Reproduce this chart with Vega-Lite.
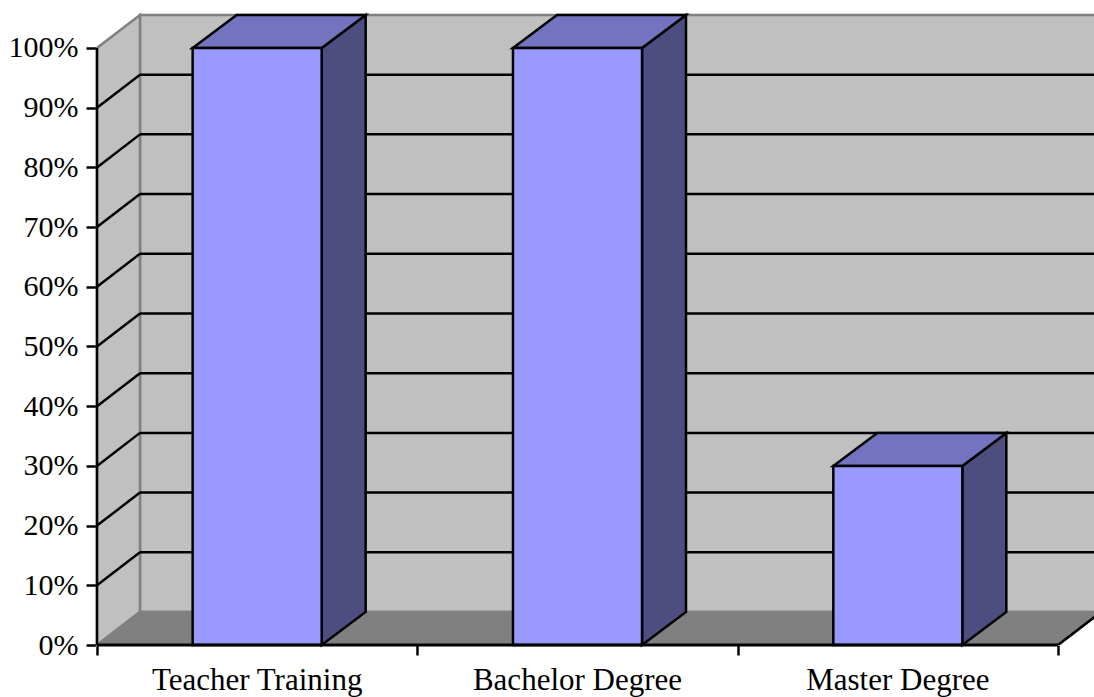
{
  "$schema": "https://vega.github.io/schema/vega-lite/v6.json",
  "width": 997,
  "height": 632,
  "autosize": {"type": "none"},
  "padding": {"left": 97, "top": 13, "right": 0, "bottom": 52},
  "background": "white",
  "config": {
    "view": {"stroke": null},
    "axis": {"labelFont": "Liberation Serif", "labelColor": "black", "tickColor": "black", "tickWidth": 2.5, "domain": false, "grid": false}
  },
  "datasets": {
    "bars": [
      {"category": "Teacher Training", "slot": 0, "value": 100},
      {"category": "Bachelor Degree", "slot": 1, "value": 100},
      {"category": "Master Degree", "slot": 2, "value": 30}
    ],
    "levels": [
      {"level": 10}, {"level": 20}, {"level": 30}, {"level": 40}, {"level": 50},
      {"level": 60}, {"level": 70}, {"level": 80}, {"level": 90}
    ],
    "corners": [{"corner": 0}, {"corner": 1}, {"corner": 2}, {"corner": 3}],
    "sideEdge": [{"corner": 0}, {"corner": 1}],
    "stage": [{"part": "stage"}]
  },
  "layer": [
    {
      "description": "Back wall, which also carries both axes",
      "data": {"name": "stage"},
      "transform": [
        {"calculate": "0.1342", "as": "x0"},
        {"calculate": "3.3", "as": "x1"},
        {"calculate": "5.53", "as": "y0"},
        {"calculate": "105.53", "as": "y1"}
      ],
      "mark": {"type": "rect", "fill": "#C0C0C0", "stroke": "#808080", "strokeWidth": 2.5, "clip": true},
      "encoding": {
        "x": {
          "field": "x0", "type": "quantitative",
          "scale": {"domain": [0, 3.1124], "nice": false, "zero": false},
          "axis": {"values": [0, 1, 2, 3], "labels": false, "tickSize": 10, "title": null}
        },
        "x2": {"field": "x1"},
        "y": {
          "field": "y0", "type": "quantitative",
          "scale": {"domain": [0, 105.86], "nice": false, "zero": false},
          "axis": {
            "values": [0, 10, 20, 30, 40, 50, 60, 70, 80, 90, 100],
            "labelExpr": "datum.value + '%'",
            "labelFontSize": 30, "tickSize": 11, "labelPadding": 8, "title": null
          }
        },
        "y2": {"field": "y1"}
      }
    },
    {
      "description": "Left side wall, a sheared band",
      "data": {"name": "sideEdge"},
      "transform": [
        {"calculate": "datum.corner * 0.1342", "as": "px"},
        {"calculate": "datum.corner * 5.53", "as": "low"},
        {"calculate": "100 + datum.corner * 5.53", "as": "high"}
      ],
      "mark": {"type": "area", "fill": "#C0C0C0", "stroke": "#808080", "strokeWidth": 2.5},
      "encoding": {
        "x": {"field": "px", "type": "quantitative"},
        "y": {"field": "low", "type": "quantitative", "stack": null},
        "y2": {"field": "high"}
      }
    },
    {
      "description": "Floor plane",
      "data": {"name": "corners"},
      "transform": [
        {"calculate": "[0, 0.1342, 3, 3.1342][datum.corner]", "as": "px"},
        {"calculate": "datum.corner == 3 ? 5.53 : 0", "as": "low"},
        {"calculate": "datum.corner == 0 ? 0 : 5.53", "as": "high"}
      ],
      "mark": {"type": "area", "fill": "#808080", "stroke": "#808080", "strokeWidth": 2.5, "clip": true},
      "encoding": {
        "x": {"field": "px", "type": "quantitative"},
        "y": {"field": "low", "type": "quantitative", "stack": null},
        "y2": {"field": "high"}
      }
    },
    {
      "description": "Gridlines across the back wall",
      "data": {"name": "levels"},
      "transform": [
        {"calculate": "datum.level + 5.53", "as": "back"},
        {"calculate": "0.1342", "as": "x0"},
        {"calculate": "3.3", "as": "x1"}
      ],
      "mark": {"type": "rule", "color": "black", "strokeWidth": 2.5, "clip": true},
      "encoding": {
        "x": {"field": "x0", "type": "quantitative"},
        "x2": {"field": "x1"},
        "y": {"field": "back", "type": "quantitative"}
      }
    },
    {
      "description": "Gridlines running up the side wall",
      "data": {"name": "levels"},
      "transform": [
        {"calculate": "datum.level + 5.53", "as": "back"},
        {"calculate": "0", "as": "x0"},
        {"calculate": "0.1342", "as": "x1"}
      ],
      "mark": {"type": "rule", "color": "black", "strokeWidth": 2.5},
      "encoding": {
        "x": {"field": "x0", "type": "quantitative"},
        "x2": {"field": "x1"},
        "y": {"field": "level", "type": "quantitative"},
        "y2": {"field": "back"}
      }
    },
    {
      "description": "Value axis line",
      "data": {"name": "stage"},
      "transform": [
        {"calculate": "0", "as": "x0"},
        {"calculate": "0", "as": "y0"},
        {"calculate": "100", "as": "y1"}
      ],
      "mark": {"type": "rule", "color": "black", "strokeWidth": 2.5},
      "encoding": {
        "x": {"field": "x0", "type": "quantitative"},
        "y": {"field": "y0", "type": "quantitative"},
        "y2": {"field": "y1"}
      }
    },
    {
      "description": "Front right edge of the floor",
      "data": {"name": "stage"},
      "transform": [
        {"calculate": "3", "as": "x0"},
        {"calculate": "3.1342", "as": "x1"},
        {"calculate": "0", "as": "y0"},
        {"calculate": "5.53", "as": "y1"}
      ],
      "mark": {"type": "rule", "color": "black", "strokeWidth": 2.5, "clip": true},
      "encoding": {
        "x": {"field": "x0", "type": "quantitative"},
        "x2": {"field": "x1"},
        "y": {"field": "y0", "type": "quantitative"},
        "y2": {"field": "y1"}
      }
    },
    {
      "description": "Right side of each column",
      "data": {"name": "bars"},
      "transform": [
        {"calculate": "[0, 1]", "as": "corner"},
        {"flatten": ["corner"]},
        {"calculate": "datum.slot + 0.2986 + 0.4028 + datum.corner * 0.1373", "as": "px"},
        {"calculate": "datum.corner * 5.53", "as": "low"},
        {"calculate": "datum.value + datum.corner * 5.53", "as": "high"}
      ],
      "mark": {"type": "area", "fill": "#4D4D80", "stroke": "black", "strokeWidth": 2.5},
      "encoding": {
        "x": {"field": "px", "type": "quantitative"},
        "y": {"field": "low", "type": "quantitative", "stack": null},
        "y2": {"field": "high"},
        "detail": {"field": "category"}
      }
    },
    {
      "description": "Top of each column",
      "data": {"name": "bars"},
      "transform": [
        {"calculate": "[0, 1, 2, 3]", "as": "corner"},
        {"flatten": ["corner"]},
        {"calculate": "datum.slot + 0.2986 + [0, 0.1373, 0.4028, 0.5401][datum.corner]", "as": "px"},
        {"calculate": "datum.value + (datum.corner == 3 ? 5.53 : 0)", "as": "low"},
        {"calculate": "datum.value + (datum.corner == 0 ? 0 : 5.53)", "as": "high"}
      ],
      "mark": {"type": "area", "fill": "#7373BF", "stroke": "black", "strokeWidth": 2.5},
      "encoding": {
        "x": {"field": "px", "type": "quantitative"},
        "y": {"field": "low", "type": "quantitative", "stack": null},
        "y2": {"field": "high"},
        "detail": {"field": "category"}
      }
    },
    {
      "description": "Front face of each column",
      "data": {"name": "bars"},
      "transform": [
        {"calculate": "datum.slot + 0.2986", "as": "left"},
        {"calculate": "datum.slot + 0.7014", "as": "right"},
        {"calculate": "0", "as": "base"}
      ],
      "mark": {"type": "rect", "fill": "#9999FF", "stroke": "black", "strokeWidth": 2.5},
      "encoding": {
        "x": {"field": "left", "type": "quantitative"},
        "x2": {"field": "right"},
        "y": {"field": "base", "type": "quantitative"},
        "y2": {"field": "value"}
      }
    },
    {
      "description": "Category axis line, drawn over the column feet",
      "data": {"name": "stage"},
      "transform": [
        {"calculate": "0", "as": "x0"},
        {"calculate": "3", "as": "x1"},
        {"calculate": "0", "as": "y0"}
      ],
      "mark": {"type": "rule", "color": "black", "strokeWidth": 3},
      "encoding": {
        "x": {"field": "x0", "type": "quantitative"},
        "x2": {"field": "x1"},
        "y": {"field": "y0", "type": "quantitative"}
      }
    },
    {
      "description": "Category names under the axis",
      "data": {"name": "bars"},
      "transform": [
        {"calculate": "datum.slot + 0.5", "as": "middle"},
        {"calculate": "0", "as": "base"}
      ],
      "mark": {"type": "text", "font": "Liberation Serif", "fontSize": 31, "color": "black", "baseline": "alphabetic", "dy": 45},
      "encoding": {
        "x": {"field": "middle", "type": "quantitative"},
        "y": {"field": "base", "type": "quantitative"},
        "text": {"field": "category"}
      }
    }
  ]
}
